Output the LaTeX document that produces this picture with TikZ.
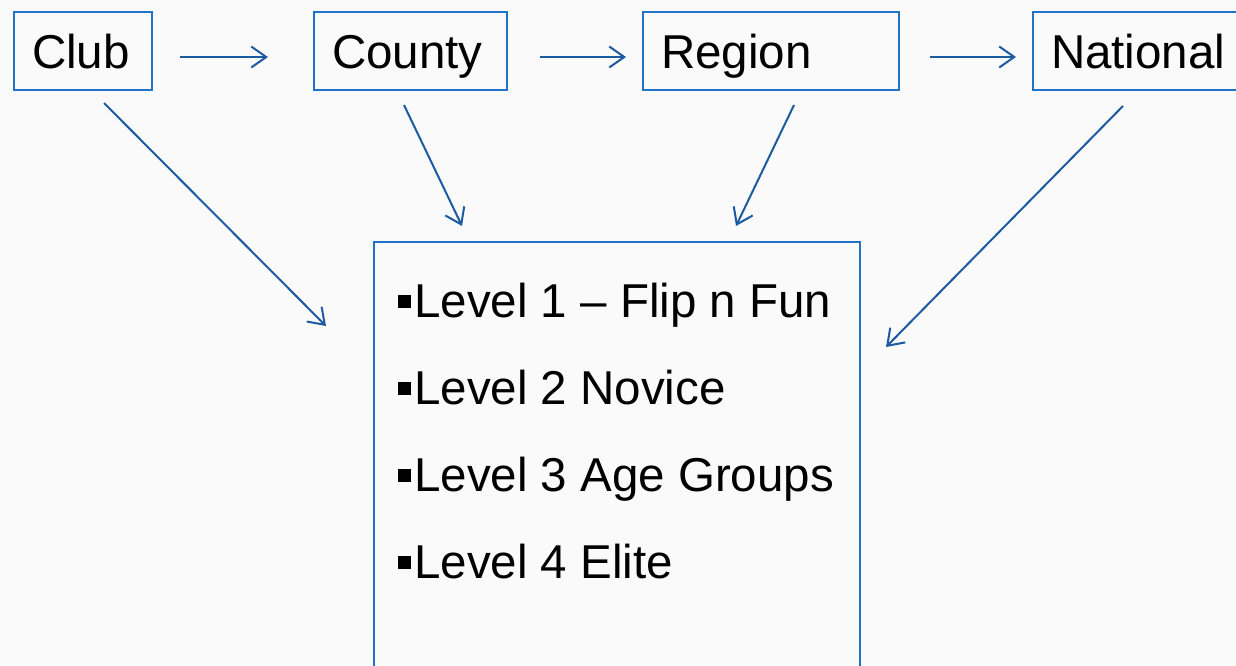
\documentclass[tikz,border=0pt]{standalone}
\usepackage{fontspec}
\setmainfont{Liberation Sans}
\usepackage{tikz}
\usetikzlibrary{positioning,arrows.meta}
\definecolor{boxblue}{RGB}{32,116,200}
\definecolor{arrowblue}{RGB}{28,90,162}
\def\lvlbullet{\rule[9pt]{13pt}{13pt}\hspace{3pt}}

\begin{document}
\begin{tikzpicture}[>={Straight Barb[length=15pt,width=21pt,line width=2pt]}, font=\fontsize{47.5pt}{56pt}\selectfont,
	stage/.style={draw=boxblue, line width=2pt, minimum height=78pt, inner xsep=18pt, inner ysep=0pt, text height=35pt, text depth=0pt, anchor=north west, align=left},
	levelbox/.style={draw=boxblue, line width=2pt, minimum width=486pt, minimum height=500pt, anchor=north west},
	item/.style={anchor=base west, inner sep=0pt},
	link/.style={->, draw=arrowblue, line width=2pt}]
	\useasboundingbox (0pt,0pt) rectangle (1236pt,-665pt);
	\fill[black!2] (0pt,0pt) rectangle (1236pt,-665pt);
	\clip (0pt,0pt) rectangle (1236pt,-665pt);
	\draw (13.0pt, -11.0pt)node[stage, text width=102pt](club){Club};
	\draw (313.0pt, -11.0pt)node[stage, text width=157pt](county){County};
	\draw (642.0pt, -11.0pt)node[stage, text width=220pt](region){Region};
	\draw (1032.0pt, -11.0pt)node[stage, text width=224pt](national){National};
	\draw (373.0pt, -241.0pt)node[levelbox](levels){};
	\foreach \txt [count=\i] in {Level 1 -- Flip n Fun, Level 2 Novice, Level 3 Age Groups, Level 4 Elite}
		\draw (398pt, -317pt-87pt*\i+87pt)node[item](lvl\i){\lvlbullet\txt};
	% along the top row
	\path ([yshift=-6pt]club.east) edge[link, shorten <=27pt, shorten >=45pt] ([yshift=-6pt]county.west);
	\path ([yshift=-6pt]county.east) edge[link, shorten <=32pt, shorten >=16pt] ([yshift=-6pt]region.west);
	\path ([yshift=-6pt]region.east) edge[link, shorten <=30pt, shorten >=16pt] ([yshift=-6pt]national.west);
	% down into the levels
	\path ([shift={(21pt,-12pt)}]club.south) edge[link] ([shift={(-47pt,-85pt)}]levels.north west);
	\path ([shift={(-6.5pt,-14pt)}]county.south) edge[link] ([shift={(89pt,15pt)}]levels.north west);
	\path ([shift={(23pt,-14pt)}]region.south) edge[link] ([shift={(-125pt,15pt)}]levels.north east);
	\path ([shift={(91pt,-15pt)}]national.south west) edge[link] ([shift={(25pt,-106pt)}]levels.north east);
\end{tikzpicture}
\end{document}
